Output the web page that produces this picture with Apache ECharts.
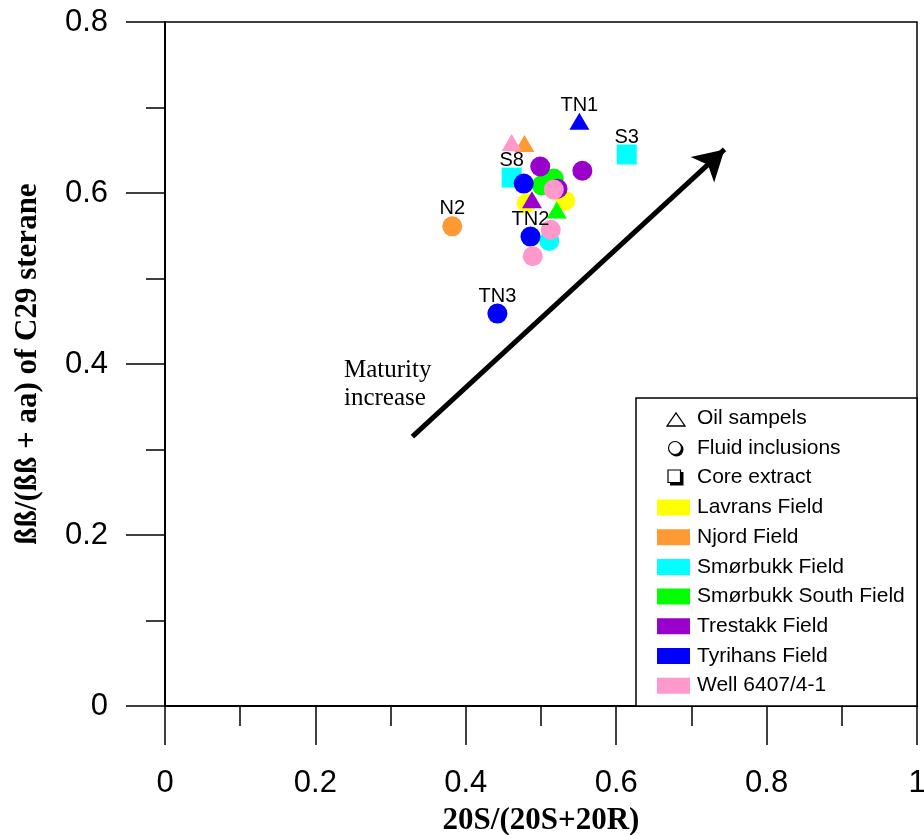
<!DOCTYPE html>
<html>
<head>
<meta charset="utf-8">
<script src="https://cdn.jsdelivr.net/npm/echarts@6/dist/echarts.min.js"></script>
<style>
  html, body { margin: 0; padding: 0; background: #fff; }
  #chart { width: 924px; height: 835px; }
</style>
</head>
<body>
<div id="chart"></div>
<script>
// Oil fields and their colours
const fieldNames = ['Lavrans Field', 'Njord Field', 'Smørbukk Field', 'Smørbukk South Field',
  'Trestakk Field', 'Tyrihans Field', 'Well 6407/4-1'];
const fieldColors = ['#FFFF00', '#FF9933', '#00FFFF', '#00FF00', '#9900CC', '#0000FF', '#FF99CC'];

// Sample kinds: oil = oil sample, fi = fluid inclusion, core = core extract
const kindNames = ['Oil sampels', 'Fluid inclusions', 'Core extract'];

// [20S/(20S+20R), bb/(bb+aa), kind, tag]
const lavrans = [[0.532, 0.591, 'fi', ''], [0.481, 0.588, 'fi', '']];
const njord = [[0.478, 0.658, 'oil', ''], [0.382, 0.561, 'fi', 'N2']];
const smorbukk = [[0.614, 0.645, 'core', 'S3'], [0.461, 0.618, 'core', 'S8'], [0.511, 0.544, 'fi', '']];
const smorbukkSouth = [[0.517, 0.617, 'fi', ''], [0.501, 0.609, 'fi', ''], [0.521, 0.580, 'oil', '']];
const trestakk = [[0.499, 0.631, 'fi', ''], [0.555, 0.626, 'fi', ''], [0.522, 0.605, 'fi', ''], [0.488, 0.592, 'oil', '']];
const tyrihans = [[0.551, 0.684, 'oil', 'TN1'], [0.477, 0.611, 'fi', ''], [0.486, 0.549, 'fi', 'TN2'], [0.442, 0.459, 'fi', 'TN3']];
const well = [[0.461, 0.659, 'oil', ''], [0.517, 0.604, 'fi', ''], [0.513, 0.557, 'fi', ''], [0.489, 0.526, 'fi', '']];
const fieldPoints = [lavrans, njord, smorbukk, smorbukkSouth, trestakk, tyrihans, well];

// Maturity trend arrow and its caption
const arrowFrom = [0.329, 0.315];
const arrowTo = [0.744, 0.651];
const captionAt = [0.238, 0.376];
const captionText = 'Maturity\nincrease';

// Axis ticks
const xTicks = [0, 0.2, 0.4, 0.6, 0.8, 1];
const yTicks = [0, 0.2, 0.4, 0.6, 0.8];

const SANS = "'Liberation Sans', Arial, sans-serif";
const SERIF = "'Liberation Serif', 'Times New Roman', serif";

const symbolFor = { oil: 'triangle', fi: 'circle', core: 'rect' };
const sizeFor = { oil: [20, 17], fi: 20, core: 20 };

const fieldSeries = fieldNames.map((name, i) => ({
  name: name,
  type: 'scatter',
  itemStyle: { color: fieldColors[i], opacity: 1 },
  emphasis: { disabled: true },
  label: {
    show: true,
    position: 'top',
    distance: -2.5,
    color: '#000',
    fontFamily: SANS,
    fontSize: 20,
    lineHeight: 20,
    formatter: p => p.name
  },
  data: fieldPoints[i].map(p => ({
    value: [p[0], p[1]],
    name: p[3],
    symbol: symbolFor[p[2]],
    symbolSize: sizeFor[p[2]]
  }))
}));

const chart = echarts.init(document.getElementById('chart'), null, { renderer: 'canvas' });

const option = {
  backgroundColor: '#fff',
  animation: false,
  grid: {
    left: 165, right: 7, top: 22, bottom: 129,
    outerBoundsMode: 'none',
    containLabel: false,
    show: true, borderColor: '#000', borderWidth: 1.5, backgroundColor: 'transparent'
  },
  xAxis: {
    type: 'value',
    min: xTicks[0], max: xTicks[xTicks.length - 1], interval: xTicks[1] - xTicks[0],
    name: '20S/(20S+20R)',
    nameLocation: 'middle',
    nameGap: 99,
    nameTextStyle: { fontFamily: SERIF, fontWeight: 'bold', fontSize: 31, color: '#000' },
    axisLine: { show: true, onZero: false, lineStyle: { color: '#000', width: 2 } },
    axisTick: { show: true, inside: false, length: 39, lineStyle: { color: '#000', width: 1.5 } },
    minorTick: { show: true, splitNumber: 2, length: 20, lineStyle: { color: '#000', width: 1.5 } },
    splitLine: { show: false },
    minorSplitLine: { show: false },
    axisLabel: {
      margin: 62, fontFamily: SANS, fontSize: 31, color: '#000', hideOverlap: false,
      formatter: v => String(+v.toFixed(1))
    }
  },
  yAxis: {
    type: 'value',
    min: yTicks[0], max: yTicks[yTicks.length - 1], interval: yTicks[1] - yTicks[0],
    name: 'ßß/(ßß + aa) of C29 sterane',
    nameLocation: 'middle',
    nameGap: 122,
    nameTextStyle: { fontFamily: SERIF, fontWeight: 'bold', fontSize: 31, color: '#000' },
    axisLine: { show: true, onZero: false, lineStyle: { color: '#000', width: 2 } },
    axisTick: { show: true, inside: false, length: 39, lineStyle: { color: '#000', width: 1.5 } },
    minorTick: { show: true, splitNumber: 2, length: 19, lineStyle: { color: '#000', width: 1.5 } },
    splitLine: { show: false },
    minorSplitLine: { show: false },
    axisLabel: {
      margin: 57, fontFamily: SANS, fontSize: 31, color: '#000',
      formatter: v => String(+v.toFixed(1))
    }
  },
  legend: {
    data: fieldNames,
    orient: 'vertical',
    left: 657,
    top: 497,
    padding: 0,
    icon: 'rect',
    itemWidth: 33,
    itemHeight: 16,
    itemGap: 8.7,
    selectedMode: false,
    z: 20,
    textStyle: { fontFamily: SANS, fontSize: 21, lineHeight: 21, color: '#000', padding: [0, 0, 0, 2] }
  },
  graphic: [
    {
      type: 'rect', z: 10,
      shape: { x: 636, y: 398, width: 281, height: 308 },
      style: { fill: '#fff', stroke: '#000', lineWidth: 1.5 }
    },
    {
      type: 'polygon', z: 11,
      shape: { points: [[667, 426], [685, 426], [676, 413]] },
      style: { fill: '#fff', stroke: '#000', lineWidth: 1.3 }
    },
    { type: 'circle', z: 11, shape: { cx: 676.5, cy: 449.5, r: 7 }, style: { fill: '#000' } },
    { type: 'circle', z: 11, shape: { cx: 675, cy: 448, r: 6.5 }, style: { fill: '#fff', stroke: '#000', lineWidth: 1.2 } },
    { type: 'rect', z: 11, shape: { x: 670, y: 472, width: 13.5, height: 13.5 }, style: { fill: '#000' } },
    { type: 'rect', z: 11, shape: { x: 668, y: 470, width: 12.5, height: 12.5 }, style: { fill: '#fff', stroke: '#000', lineWidth: 1.2 } },
    ...kindNames.map((t, i) => ({
      type: 'text', z: 11,
      style: {
        x: 697, y: [418, 448, 477][i], text: t,
        fill: '#000', font: '21px ' + SANS, textVerticalAlign: 'middle'
      }
    }))
  ],
  series: [
    ...fieldSeries,
    {
      name: 'trend',
      type: 'scatter',
      data: [{ value: captionAt }],
      symbolSize: 0,
      silent: true,
      itemStyle: { color: '#000', opacity: 1 },
      label: {
        show: true, position: 'right', distance: 0, opacity: 1,
        formatter: captionText,
        fontFamily: SERIF, fontSize: 25, lineHeight: 28, color: '#000', align: 'left'
      },
      markLine: {
        silent: true,
        animation: false,
        symbol: ['none', 'arrow'],
        symbolSize: [26, 30],
        label: { show: false },
        lineStyle: { color: '#000', width: 5, type: 'solid', opacity: 1 },
        emphasis: { disabled: true },
        data: [[{ coord: arrowFrom }, { coord: arrowTo }]]
      }
    }
  ]
};

chart.setOption(option);
</script>
</body>
</html>
